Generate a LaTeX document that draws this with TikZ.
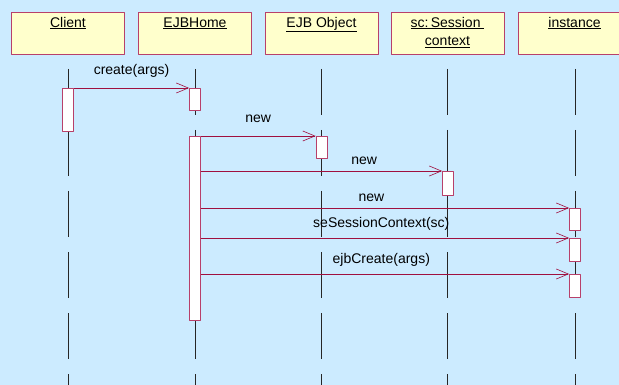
\documentclass[tikz,border=0pt]{standalone}
\usepackage{fontspec}
\setmainfont{Liberation Sans}
\usetikzlibrary{arrows.meta}
\definecolor{bgblue}{HTML}{CCEBFF}
\definecolor{boxfill}{HTML}{FFFFCC}
\definecolor{boxline}{HTML}{B8406A}
\definecolor{msgline}{HTML}{A0103F}
\begin{document}
\begin{tikzpicture}[x=1pt, y=-1pt, font=\fontsize{14}{18.5}\selectfont, line join=round,
		objbox/.style={draw=boxline, fill=boxfill, line width=0.8pt, minimum width=113pt, minimum height=42pt, inner sep=0pt},
		objname/.style={anchor=base, yshift=-15.5pt, align=center, inner sep=0pt},
		act/.style={draw=boxline, fill=white, line width=0.8pt, minimum width=11pt, inner sep=0pt, anchor=north},
		msg/.style={draw=msgline, line width=0.6pt, -{Straight Barb[length=12pt,width=10pt,line width=0.6pt]}},
		lifeline/.style={draw=black!85, line width=0.5pt, dash pattern=on 46pt off 15pt}]
	\clip (0,0) rectangle (619,385);
	\fill[bgblue] (0,0) rectangle (619,385);
	% objects
	\node[objbox] (client) at (68,33) {};
	\node[objbox] (home) at (195,33) {};
	\node[objbox] (object) at (321.5,33) {};
	\node[objbox] (session) at (447.5,33) {};
	\node[objbox] (instance) at (574.5,33) {};
	\node[objname] at (client.north) {\underline{Client}};
	\node[objname] at (home.north) {\underline{EJBHome}};
	\node[objname] at (object.north) {\underline{EJB Object}};
	\node[objname, yshift=-18.5pt] at (session.north) {\underline{sc:\,Session\ }\\\underline{context}};
	\node[objname] at (instance.north) {\underline{instance}};
	% lifelines
	\foreach \o/\x in {client/68, home/195, object/321.5, session/447.5, instance/575}
		\draw[lifeline] (\x,69) coordinate (\o top) -- (\x,385);
	% activations
	\node[act, minimum height=43pt] (client act) at (68,88) {};
	\node[act, minimum height=22pt] (home act1) at (195,88) {};
	\node[act, minimum height=184pt] (home act2) at (195,136) {};
	\node[act, minimum height=22pt] (object act) at (321.5,136) {};
	\node[act, minimum height=24pt] (session act) at (448,171) {};
	\node[act, minimum height=22pt] (instance act1) at (575,208) {};
	\node[act, minimum height=23pt] (instance act2) at (575,238) {};
	\node[act, minimum height=23pt] (instance act3) at (575,274) {};
	% messages
	\draw[msg] (client act.north east) -- (home act1.north west)
		node[pos=0.5, anchor=base, yshift=13pt, text=black] {create(args)};
	\draw[msg] (home act2.north east) -- (object act.north west)
		node[pos=0.5, anchor=base, yshift=13pt, text=black] {new};
	\draw[msg] (home act2.east |- session act.north) -- (session act.north west)
		node[pos=0.677, anchor=base, yshift=6pt, text=black] {new};
	\draw[msg] (home act2.east |- instance act1.north) -- (instance act1.north west)
		node[pos=0.463, anchor=base, yshift=7pt, text=black] {new};
	\draw[msg] (home act2.east |- instance act2.north) -- (instance act2.north west)
		node[pos=0.49, anchor=base, yshift=11pt, text=black] {seSessionContext(sc)};
	\draw[msg] (home act2.east |- instance act3.north) -- (instance act3.north west)
		node[pos=0.49, anchor=base, yshift=11pt, text=black] {ejbCreate(args)};
\end{tikzpicture}
\end{document}
